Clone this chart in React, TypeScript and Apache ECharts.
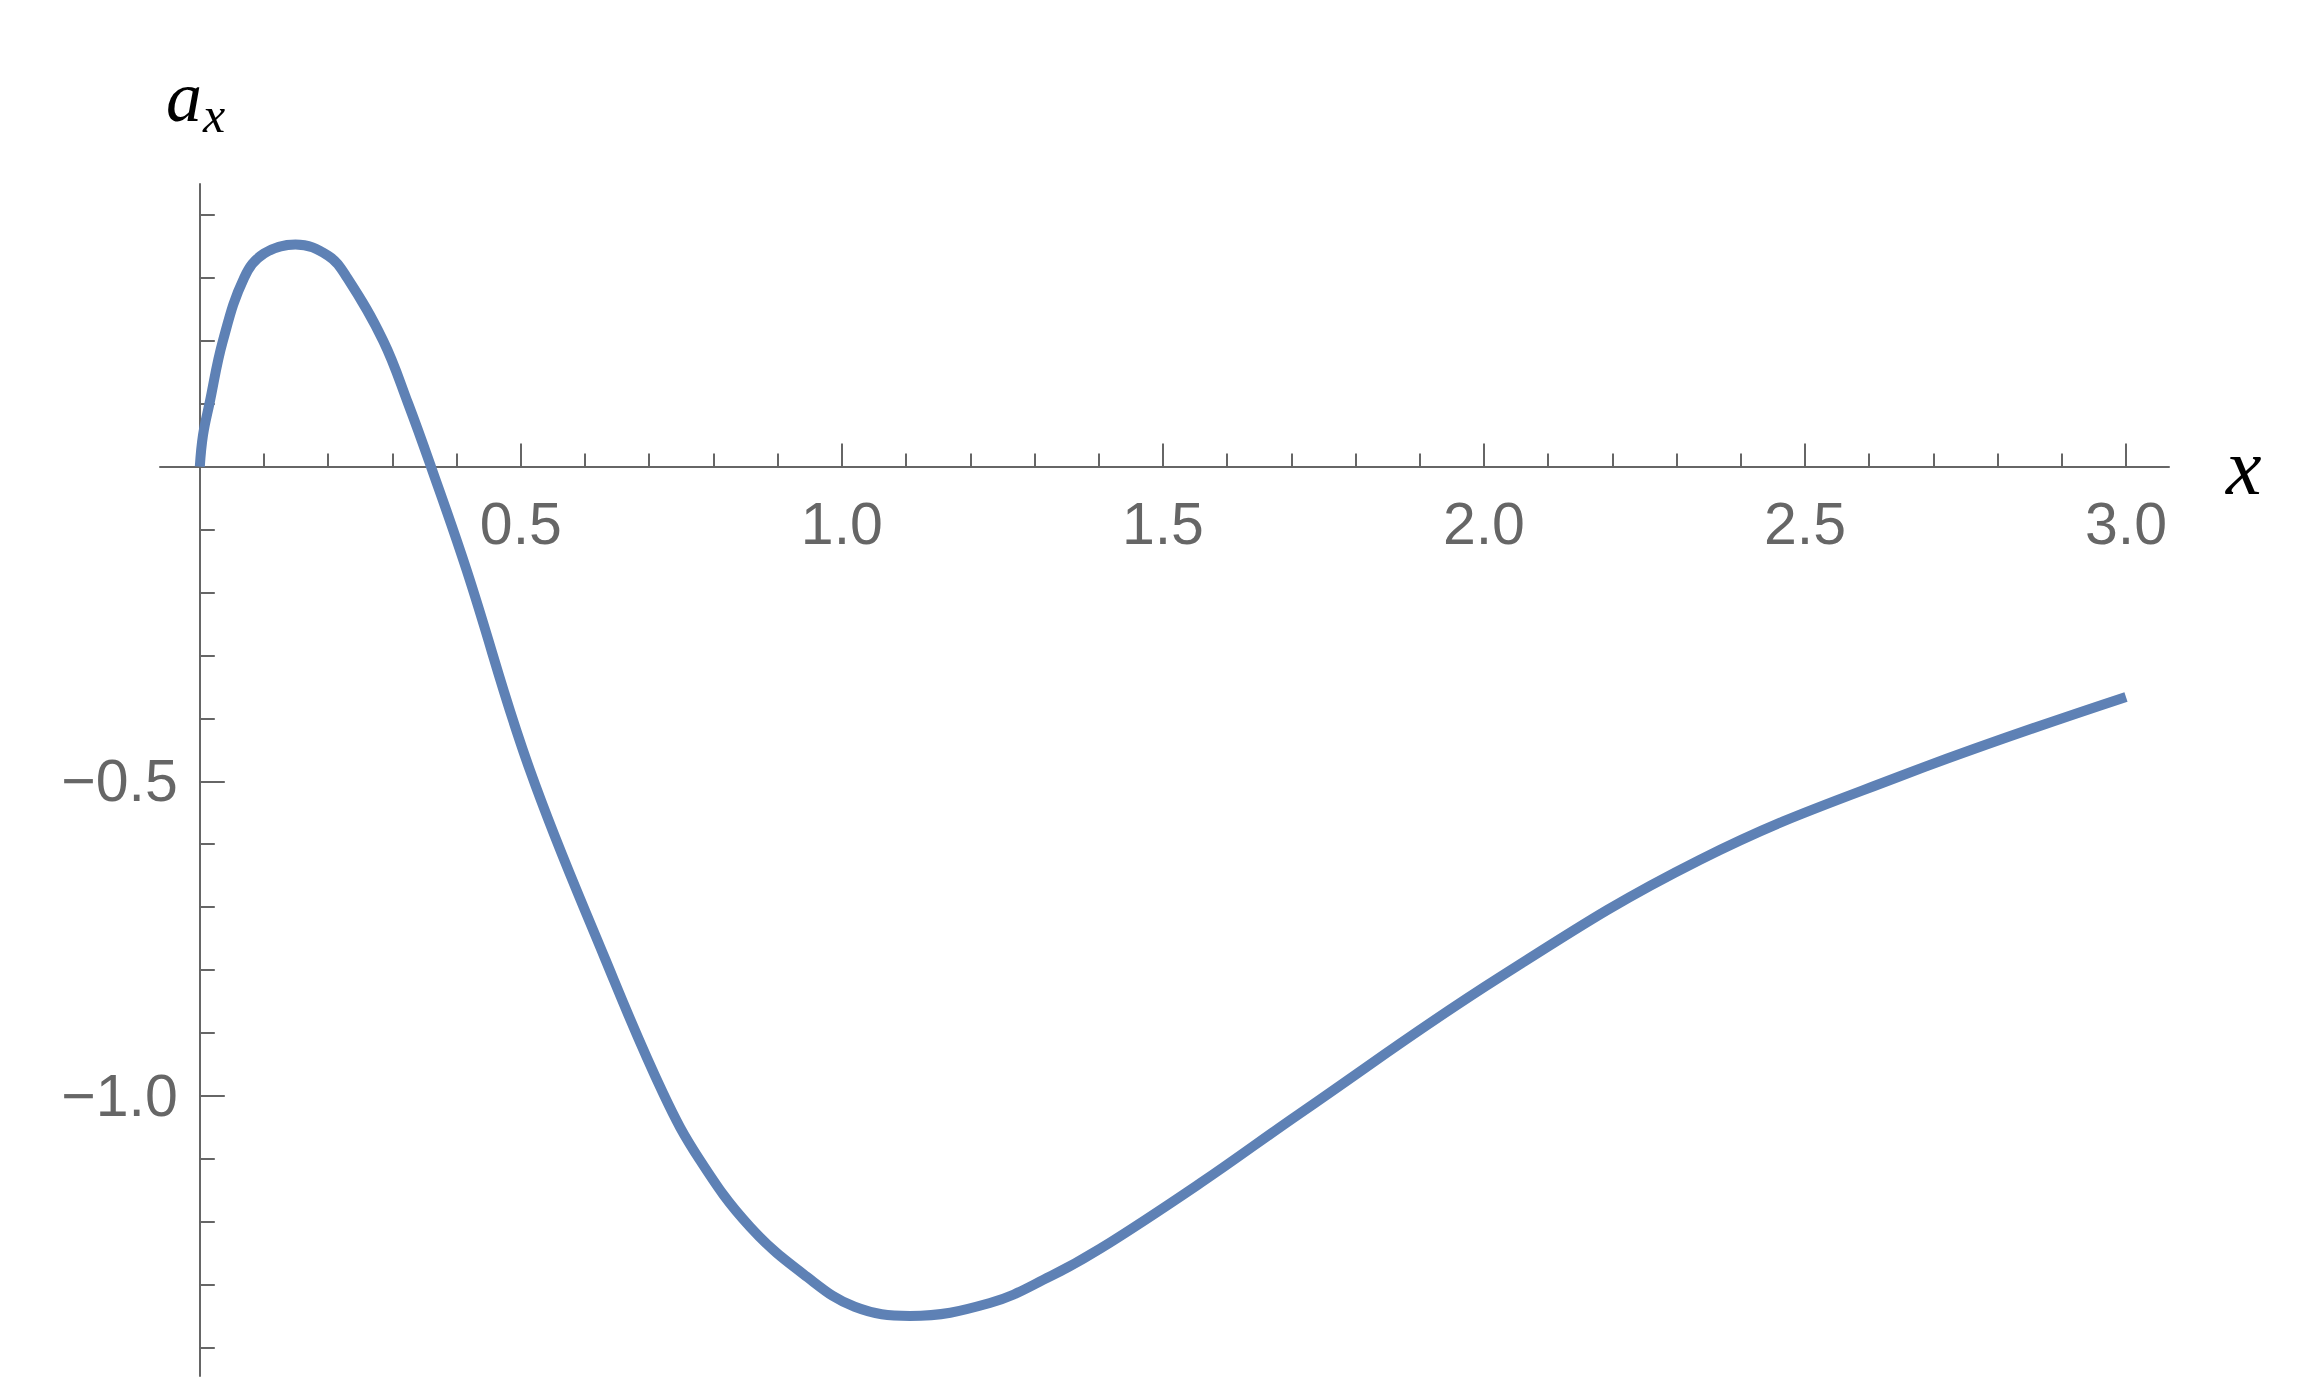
import React, { useEffect, useRef } from "react";
import * as echarts from "echarts";

// Curve samples
const xValues = [
  0, 0.005, 0.015, 0.036, 0.069, 0.1, 0.149, 0.2, 0.2295, 0.2856,
  0.3245, 0.36, 0.4154, 0.514, 0.632, 0.7217, 0.779, 0.857, 0.945, 1.02,
  1.106, 1.2305, 1.324, 1.402, 1.5576, 1.713, 2.025, 2.336, 2.648, 3.0,
];
const yValues = [
  0, 0.05, 0.1, 0.2, 0.3, 0.3385, 0.353, 0.335, 0.3, 0.2,
  0.1, 0, -0.164, -0.482, -0.784, -0.996, -1.102, -1.208, -1.287, -1.335,
  -1.3495, -1.329, -1.287, -1.243, -1.139, -1.028, -0.811, -0.625, -0.492, -0.366,
];

// Axis ranges and ticks
const xRange = [-0.062, 3.067];
const yRange = [-1.445, 0.449];
const xMajorTicks = [0.5, 1.0, 1.5, 2.0, 2.5, 3.0];
const xMinorTicks = [
  0.1, 0.2, 0.3, 0.4, 0.6, 0.7, 0.8, 0.9, 1.1, 1.2, 1.3, 1.4,
  1.6, 1.7, 1.8, 1.9, 2.1, 2.2, 2.3, 2.4, 2.6, 2.7, 2.8, 2.9,
];
const yMajorTicks = [-0.5, -1.0];
const yMinorTicks = [
  0.4, 0.3, 0.2, 0.1, -0.1, -0.2, -0.3, -0.4, -0.6, -0.7, -0.8, -0.9,
  -1.1, -1.2, -1.3, -1.4,
];

const AXIS_COLOR = "#666666";
const LABEL_FONT = "Liberation Sans";
const MATH_FONT = "Liberation Serif";

const GRID = { left: 160, top: 184, width: 2009, height: 1192 };

const fmt = (v: number) => (v < 0 ? "\u2212" : "") + Math.abs(v).toFixed(1);

export default function App() {
  const ref = useRef<HTMLDivElement>(null);

  useEffect(() => {
    if (!ref.current) return;
    const chart = echarts.init(ref.current, undefined, { renderer: "svg" });
    const data = xValues.map((x, i) => [x, yValues[i]]);

    // place the axes through the origin (offset from the grid edges via the axis scales)
    const xAxisOffset = -GRID.height * (0 - yRange[0]) / (yRange[1] - yRange[0]);
    const yAxisOffset = -GRID.width * (0 - xRange[0]) / (xRange[1] - xRange[0]);

    const tickLine = { color: AXIS_COLOR, width: 2 };

    chart.setOption({
      animation: false,
      backgroundColor: "#ffffff",
      grid: { ...GRID, containLabel: false, outerBoundsMode: "none" },
      xAxis: [
        {
          type: "value",
          min: xRange[0],
          max: xRange[1],
          position: "bottom",
          offset: xAxisOffset,
          axisLine: { show: true, onZero: false, lineStyle: { color: AXIS_COLOR, width: 2 } },
          axisTick: { show: true, inside: true, length: 23, customValues: xMajorTicks, lineStyle: tickLine },
          axisLabel: {
            show: true,
            customValues: xMajorTicks,
            formatter: (v: number) => fmt(v),
            margin: 28,
            fontSize: 59,
            fontFamily: LABEL_FONT,
            color: AXIS_COLOR,
          },
          splitLine: { show: false },
          name: "x",
          nameLocation: "end",
          nameGap: 57,
          nameTextStyle: { fontFamily: MATH_FONT, fontStyle: "italic", fontSize: 80, color: "#000000" },
        },
        {
          type: "value",
          min: xRange[0],
          max: xRange[1],
          position: "bottom",
          offset: xAxisOffset,
          axisLine: { show: true, onZero: false, lineStyle: { color: AXIS_COLOR, width: 2, opacity: 0 } },
          axisTick: { show: true, inside: true, length: 13, customValues: xMinorTicks, lineStyle: tickLine },
          axisLabel: { show: false },
          splitLine: { show: false },
        },
      ],
      yAxis: [
        {
          type: "value",
          min: yRange[0],
          max: yRange[1],
          position: "left",
          offset: yAxisOffset,
          axisLine: { show: true, onZero: false, lineStyle: { color: AXIS_COLOR, width: 2 } },
          axisTick: { show: true, inside: true, length: 25, customValues: yMajorTicks, lineStyle: tickLine },
          axisLabel: {
            show: true,
            customValues: yMajorTicks,
            formatter: (v: number) => fmt(v),
            margin: 22,
            fontSize: 59,
            fontFamily: LABEL_FONT,
            color: AXIS_COLOR,
          },
          splitLine: { show: false },
        },
        {
          type: "value",
          min: yRange[0],
          max: yRange[1],
          position: "left",
          offset: yAxisOffset,
          axisLine: { show: true, onZero: false, lineStyle: { color: AXIS_COLOR, width: 2, opacity: 0 } },
          axisTick: { show: true, inside: true, length: 15, customValues: yMinorTicks, lineStyle: tickLine },
          axisLabel: { show: false },
          splitLine: { show: false },
        },
      ],
      graphic: [
        {
          type: "text",
          x: 166,
          y: 97,
          style: {
            text: "a",
            fontFamily: MATH_FONT,
            fontStyle: "italic",
            fontSize: 72,
            fill: "#000000",
            align: "left",
            verticalAlign: "middle",
          },
        },
        {
          type: "text",
          x: 203,
          y: 115,
          style: {
            text: "x",
            fontFamily: MATH_FONT,
            fontStyle: "italic",
            fontSize: 50,
            fill: "#000000",
            align: "left",
            verticalAlign: "middle",
          },
        },
      ],
      series: [
        {
          type: "line",
          xAxisIndex: 0,
          yAxisIndex: 0,
          data,
          showSymbol: false,
          symbol: "none",
          smooth: 0.4,
          clip: false,
          lineStyle: { color: "#5E81B5", width: 10, cap: "butt", join: "round" },
        },
      ],
    });

    return () => chart.dispose();
  }, []);

  return (
    <div
      ref={ref}
      style={{ position: "fixed", left: 0, top: 0, width: 2300, height: 1400, background: "#ffffff" }}
    />
  );
}
